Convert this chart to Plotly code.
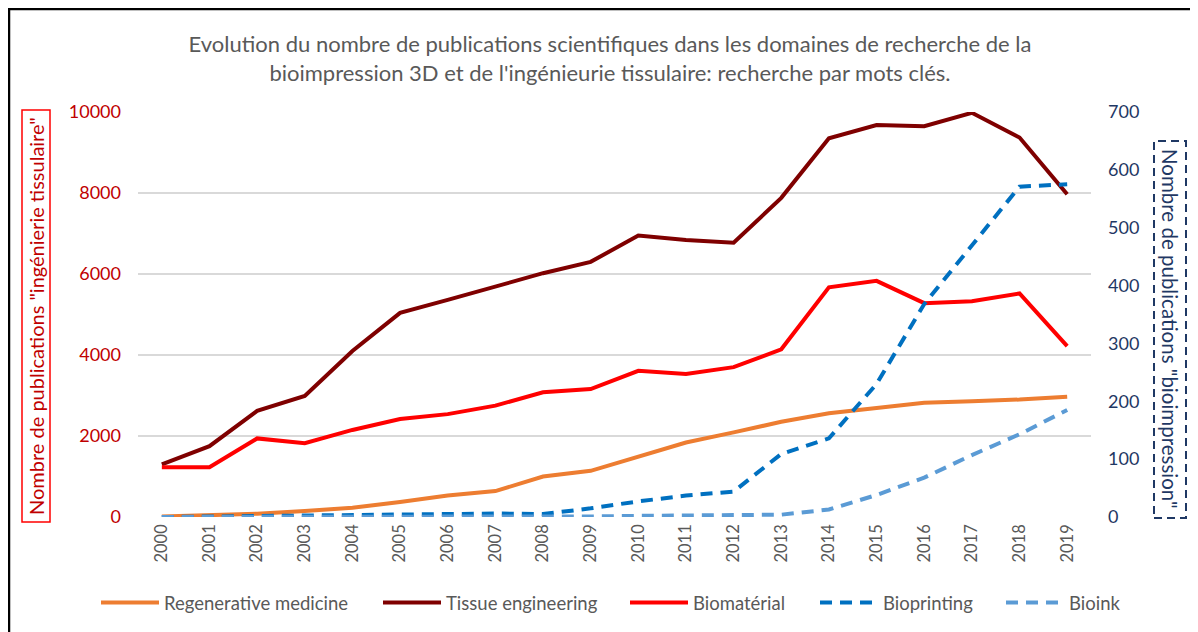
import plotly.graph_objects as go

years = [str(y) for y in range(2000, 2020)]
regenerative = [10, 40, 80, 150, 230, 370, 530, 640, 1000, 1140, 1500, 1840, 2090, 2350, 2560, 2680, 2820, 2860, 2900, 2970]
tissue = [1300, 1750, 2620, 2990, 4100, 5040, 5360, 5680, 6020, 6300, 6950, 6840, 6770, 7880, 9350, 9680, 9650, 9980, 9370, 7970]
biomaterial = [1230, 1230, 1940, 1820, 2150, 2420, 2540, 2750, 3080, 3160, 3610, 3530, 3700, 4140, 5670, 5830, 5280, 5330, 5520, 4220]
bioprinting = [0, 1, 2, 2, 3, 4, 5, 6, 5, 15, 27, 37, 44, 109, 136, 230, 368, 470, 571, 575]
bioink = [0, 0, 1, 1, 1, 1, 1, 1, 1, 1, 2, 3, 4, 4, 13, 38, 68, 107, 143, 185]

left_ticks = [0, 2000, 4000, 6000, 8000, 10000]
right_ticks = [0, 100, 200, 300, 400, 500, 600, 700]

FONT = "Lato"
OFF = 8  # page body margin
W, H = 1198 - OFF, 632 - OFF
# plot area in screenshot pixels: x 138..1091, y 112..517
L, T = 138 - OFF, 112 - OFF
R, B = W - (1091 - OFF), H - (517 - OFF)
pw, ph = W - L - R, H - T - B

def px(x):
    return (x - OFF - L) / pw

def py(y):
    return (H - B - (y - OFF)) / ph

series = [
    ("Regenerative medicine", regenerative, "y", dict(color="#ED7D31", width=4), 101),
    ("Tissue engineering", tissue, "y", dict(color="#7F0000", width=4), 383),
    ("Biomatérial", biomaterial, "y", dict(color="#FF0000", width=4), 630),
    ("Bioprinting", bioprinting, "y2", dict(color="#0070C0", width=4, dash="12px,8px"), 820),
    ("Bioink", bioink, "y2", dict(color="#5B9BD5", width=4, dash="12px,8px"), 1006),
]

fig = go.Figure()
legend_layouts = {}
for i, (name, vals, yax, line, lx) in enumerate(series):
    lname = "legend" if i == 0 else f"legend{i + 1}"
    fig.add_trace(go.Scatter(x=years, y=vals, name=name, mode="lines", yaxis=yax,
                             line=line, legend=lname))
    legend_layouts[lname] = dict(orientation="h", xref="container", yref="container",
                                 x=(lx - OFF - 5) / W, xanchor="left",
                                 y=(H - (603 - OFF)) / H, yanchor="middle",
                                 font=dict(family=FONT, size=18.5, color="#595959"),
                                 itemwidth=58, bgcolor="rgba(0,0,0,0)")

fig.update_layout(
    width=W, height=H,
    margin=dict(l=L, r=R, t=T, b=B, autoexpand=False),
    paper_bgcolor="white", plot_bgcolor="white",
    font=dict(family=FONT, color="#595959", size=15),
    title=dict(text="Evolution du nombre de publications scientifiques dans les domaines de recherche de la<br>bioimpression 3D et de l'ingénieurie tissulaire: recherche par mots clés.",
               x=(610 - OFF) / W, xanchor="center", xref="container", y=(H - 44) / H, yanchor="top",
               font=dict(family=FONT, size=22, color="#595959")),
    xaxis=dict(type="category", range=[-0.5, 19.5], tickangle=-90, showgrid=False,
               tickfont=dict(size=16.5, color="#595959"), ticks="", showline=False,
               zeroline=False, automargin=False, ticklabelstandoff=3),
    yaxis=dict(range=[0, 10000], tickvals=left_ticks, tickformat="d", showgrid=True,
               gridcolor="#D9D9D9", gridwidth=1.5, zeroline=False, showline=False,
               tickfont=dict(size=18, color="#C00000"), automargin=False, ticklabelstandoff=16),
    yaxis2=dict(range=[0, 700], tickvals=right_ticks, overlaying="y", side="right",
                showgrid=False, zeroline=False, showline=False, automargin=False,
                tickfont=dict(size=18, color="#1F3864"), ticklabelstandoff=16),
    showlegend=True,
    **legend_layouts,
)

# left axis title with red box
fig.add_annotation(text='Nombre de publications "ingénierie tissulaire"', textangle=-90,
                   xref="paper", yref="paper", x=px(36), y=py(316), xanchor="center", yanchor="middle",
                   showarrow=False, font=dict(family=FONT, size=20, color="#C00000"))
fig.add_shape(type="rect", xref="paper", yref="paper", x0=px(22), x1=px(50), y0=py(522), y1=py(110),
              line=dict(color="#FF0000", width=1.5))

# right axis title with dashed navy box
fig.add_annotation(text='Nombre de publications "bioimpression"', textangle=90,
                   xref="paper", yref="paper", x=px(1170), y=py(329), xanchor="center", yanchor="middle",
                   showarrow=False, font=dict(family=FONT, size=20.5, color="#1F3864"))
fig.add_shape(type="rect", xref="paper", yref="paper", x0=px(1154), x1=px(1186), y0=py(518), y1=py(141),
              line=dict(color="#1F3864", width=2, dash="8px,5px"))

# outer border (top and left)
fig.add_shape(type="line", xref="paper", yref="paper", x0=px(OFF), x1=px(1250), y0=py(OFF + 1), y1=py(OFF + 1),
              line=dict(color="black", width=2.5))
fig.add_shape(type="line", xref="paper", yref="paper", x0=px(OFF + 1), x1=px(OFF + 1), y0=py(OFF), y1=py(700),
              line=dict(color="black", width=2.5))

fig.write_html("out.html")
